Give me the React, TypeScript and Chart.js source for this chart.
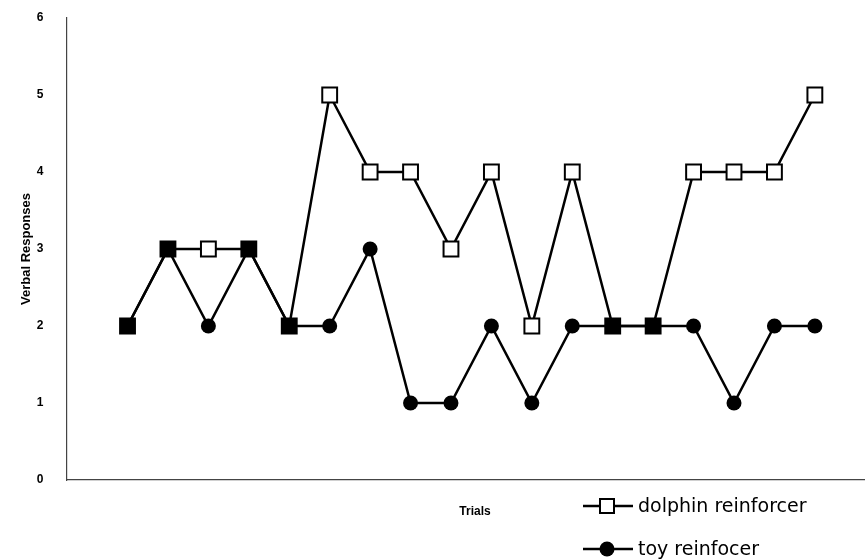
import { useEffect, useRef } from "react";
import { Chart, registerables } from "chart.js";

Chart.register(...registerables);

const trials = [1, 2, 3, 4, 5, 6, 7, 8, 9, 10, 11, 12, 13, 14, 15, 16, 17, 18];
const dolphinReinforcer = [2, 3, 3, 3, 2, 5, 4, 4, 3, 4, 2, 4, 2, 2, 4, 4, 4, 5];
const toyReinforcer = [2, 3, 2, 3, 2, 2, 3, 1, 1, 2, 1, 2, 2, 2, 2, 1, 2, 2];
const yTickLabels = ["0", "1", "2", "3", "4", "5", "6"];
const seriesLabels = ["dolphin reinforcer", "toy reinfocer"];
const xAxisTitle = "Trials";
const yAxisTitle = "Verbal Responses";

export default function App() {
  const ref = useRef<HTMLCanvasElement | null>(null);

  useEffect(() => {
    document.body.style.margin = "0";
    const canvas = ref.current;
    if (!canvas) return;

    const dolphinFill = dolphinReinforcer.map((v, i) =>
      v === toyReinforcer[i] ? "#000" : "#fff"
    );

    const overlay = {
      id: "overlay",
      afterDraw(chart: any) {
        const ctx = chart.ctx as CanvasRenderingContext2D;
        ctx.save();
        ctx.fillStyle = "#000";
        ctx.font = "bold 12px 'Liberation Sans', Arial, sans-serif";
        ctx.textAlign = "center";
        ctx.textBaseline = "middle";
        ctx.fillText(xAxisTitle, 475, 512);

        const rows = [
          { y: 506, kind: "square", label: seriesLabels[0] },
          { y: 549, kind: "circle", label: seriesLabels[1] },
        ];
        rows.forEach((r) => {
          ctx.strokeStyle = "#000";
          ctx.lineWidth = 2.5;
          ctx.beginPath();
          ctx.moveTo(583, r.y);
          ctx.lineTo(633, r.y);
          ctx.stroke();
          if (r.kind === "square") {
            ctx.fillStyle = "#fff";
            ctx.lineWidth = 2;
            ctx.fillRect(600, r.y - 7, 14, 14);
            ctx.strokeRect(600, r.y - 7, 14, 14);
          } else {
            ctx.fillStyle = "#000";
            ctx.beginPath();
            ctx.arc(607, r.y, 7.5, 0, Math.PI * 2);
            ctx.fill();
          }
          ctx.fillStyle = "#000";
          ctx.font = "19px 'DejaVu Sans', sans-serif";
          ctx.textAlign = "left";
          ctx.textBaseline = "middle";
          ctx.fillText(r.label, 638, r.y + 1);
        });
        ctx.restore();
      },
    };

    const chart = new Chart(canvas, {
      type: "line",
      data: {
        datasets: [
          {
            label: seriesLabels[0],
            data: trials.map((t, i) => ({ x: t, y: dolphinReinforcer[i] })),
            borderColor: "#000",
            borderWidth: 2.5,
            pointStyle: "rect",
            pointRadius: 10.5,
            pointBorderWidth: 2,
            pointBorderColor: "#000",
            pointBackgroundColor: dolphinFill,
            tension: 0,
          },
          {
            label: seriesLabels[1],
            data: trials.map((t, i) => ({ x: t, y: toyReinforcer[i] })),
            borderColor: "#000",
            borderWidth: 2.5,
            pointStyle: "circle",
            pointRadius: 7.5,
            pointBorderWidth: 0,
            pointBackgroundColor: "#000",
            tension: 0,
          },
        ],
      },
      options: {
        animation: false,
        responsive: false,
        maintainAspectRatio: false,
        layout: { autoPadding: false, padding: { top: 18, right: 0, left: 0, bottom: 0 } },
        plugins: {
          legend: { display: false },
          tooltip: { enabled: false },
        },
        scales: {
          x: {
            type: "linear",
            min: -0.497,
            max: 19.24,
            grid: { display: false, drawTicks: false },
            border: { display: true, color: "#444", width: 1.2 },
            ticks: { display: false },
            afterFit(scale: any) {
              scale.height = 80;
              scale.paddingLeft = 0;
              scale.paddingRight = 0;
            },
          },
          y: {
            type: "linear",
            min: 0,
            max: 6,
            grid: { display: false, drawTicks: false },
            border: { display: true, color: "#444", width: 1.2 },
            afterBuildTicks(scale: any) {
              scale.ticks = yTickLabels.map((_, i) => ({ value: i }));
            },
            ticks: {
              padding: 23.5,
              color: "#000",
              font: { family: "'Liberation Sans', Arial, sans-serif", size: 12, weight: "bold" },
              callback: (_v: any, i: number) => yTickLabels[i],
            },
            title: {
              display: true,
              text: yAxisTitle,
              color: "#000",
              font: { family: "'Liberation Sans', Arial, sans-serif", size: 13, weight: "bold" },
              padding: { top: 19, bottom: 0 },
            },
            afterFit(scale: any) {
              scale.width = 67;
              scale.paddingTop = 0;
              scale.paddingBottom = 0;
            },
          },
        },
      },
      plugins: [overlay],
    });

    return () => chart.destroy();
  }, []);

  return (
    <div style={{ position: "fixed", left: 0, top: 0, width: 865, height: 560, background: "#fff" }}>
      <canvas ref={ref} width={865} height={560} style={{ width: 865, height: 560, display: "block" }} />
    </div>
  );
}
